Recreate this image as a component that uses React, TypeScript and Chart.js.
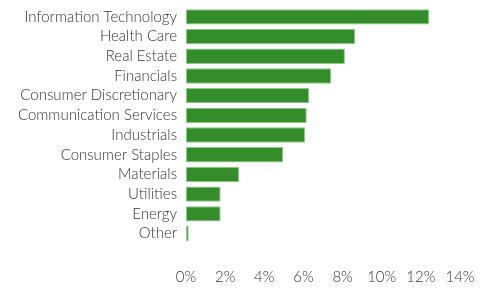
import React, { useEffect, useRef } from "react";
import { Chart, registerables } from "chart.js";

Chart.register(...registerables);

const categories = [
  "Information Technology",
  "Health Care",
  "Real Estate",
  "Financials",
  "Consumer Discretionary",
  "Communication Services",
  "Industrials",
  "Consumer Staples",
  "Materials",
  "Utilities",
  "Energy",
  "Other",
];

const weights = [12.43, 8.65, 8.12, 7.41, 6.3, 6.17, 6.08, 4.96, 2.72, 1.77, 1.77, 0.14];

const xMin = 0;
const xMax = 14;
const xStep = 2;

export default function App() {
  const canvasRef = useRef<HTMLCanvasElement | null>(null);

  useEffect(() => {
    if (!canvasRef.current) return;
    const chart = new Chart(canvasRef.current, {
      type: "bar",
      data: {
        labels: categories,
        datasets: [
          {
            data: weights,
            backgroundColor: "#358c2b",
            borderColor: "#8ccb86",
            borderWidth: 1,
            borderSkipped: false,
            barPercentage: 0.78,
            categoryPercentage: 1,
          },
        ],
      },
      options: {
        indexAxis: "y",
        animation: false,
        responsive: false,
        maintainAspectRatio: false,
        layout: { padding: { top: 7, right: 26, bottom: 0, left: 0 } },
        plugins: { legend: { display: false }, tooltip: { enabled: false } },
        scales: {
          x: {
            min: xMin,
            max: xMax,
            grid: { display: false, drawTicks: false },
            border: { display: false },
            ticks: {
              stepSize: xStep,
              padding: 25,
              color: "#333333",
              font: { family: "Lato", size: 15, weight: "300" },
              maxRotation: 0,
              callback: (v: any) => `${v}%`,
            },
            afterFit: (scale: any) => {
              scale.height = 45.6;
              scale.paddingLeft = 0;
              scale.paddingRight = 0;
            },
          },
          y: {
            grid: { display: false, drawTicks: false },
            border: { display: false },
            ticks: {
              padding: 9,
              color: "#333333",
              font: { family: "Lato", size: 15, weight: "300" },
              autoSkip: false,
            },
            afterFit: (scale: any) => {
              scale.width = 186;
              scale.paddingTop = 0;
              scale.paddingBottom = 0;
            },
          },
        },
      },
    });
    return () => chart.destroy();
  }, []);

  return (
    <div style={{ position: "fixed", left: 0, top: 0, width: 486, height: 289, background: "#fff" }}>
      <canvas ref={canvasRef} width={486} height={289} />
    </div>
  );
}
